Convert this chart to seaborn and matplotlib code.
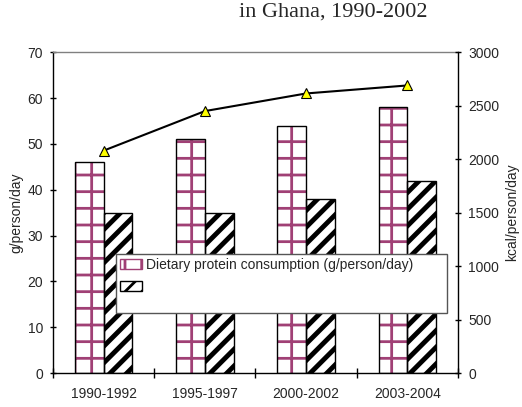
import matplotlib
matplotlib.use("Agg")
import matplotlib.pyplot as plt
from matplotlib.patches import Rectangle, Patch
import seaborn as sns
import pandas as pd

# Food supply indicators, Ghana
periods = ["1990-1992", "1995-1997", "2000-2002", "2003-2004"]
protein = [46, 51, 54, 58]          # g/person/day (left axis)
second_series = [35, 35, 38, 42]    # hatched bars (left axis)
energy = [2080, 2450, 2615, 2690]   # kcal/person/day (right axis)

protein_label = "Dietary protein consumption (g/person/day)"
second_label = ""

sns.set_theme(style="white")
plt.rcParams["font.family"] = ["Liberation Sans", "DejaVu Sans"]
plt.rcParams["hatch.linewidth"] = 2.0

PINK = "#a04075"

df = pd.DataFrame({
    "period": periods * 2,
    "value": protein + second_series,
    "series": ["protein"] * len(periods) + ["second"] * len(periods),
})

fig = plt.figure(figsize=(5.22, 4.07), dpi=100)
ax = fig.add_axes([0.1015, 0.0835, 0.7759, 0.788])

sns.barplot(data=df, x="period", y="value", hue="series", order=periods,
            hue_order=["protein", "second"], width=0.57, ax=ax,
            palette=["white", "white"], legend=False, saturation=1)

bars = [p for p in ax.patches]
n = len(periods)
for i, p in enumerate(bars):
    x, y = p.get_xy()
    w, h = p.get_width(), p.get_height()
    if i < n:
        p.set_hatch("+")
        p.set_edgecolor(PINK)
        if hasattr(p, "set_hatch_linewidth"):
            p.set_hatch_linewidth(2.0)
    else:
        p.set_hatch("//")
        p.set_edgecolor("black")
        if hasattr(p, "set_hatch_linewidth"):
            p.set_hatch_linewidth(3.5)
    p.set_linewidth(0)
    ax.add_patch(Rectangle((x, y), w, h, fill=False, edgecolor="black",
                           linewidth=1.0, zorder=p.get_zorder() + 0.1))

ax.set_xlim(-0.5, len(periods) - 0.5)
ax.set_ylim(0, 70)
ax.set_yticks(range(0, 71, 10))
ax.set_xlabel("")
ax.set_ylabel("g/person/day", fontsize=10)
ax.yaxis.set_label_coords(-0.073, 0.5)

# category boundaries carry the x ticks, labels sit at bar-group centres
ax.set_xticks([i - 0.5 for i in range(len(periods) + 1)], minor=True)
ax.tick_params(axis="x", which="major", length=0, pad=10, labelsize=10)
ax.tick_params(axis="x", which="minor", direction="inout", length=6.5,
               width=1, color="black", bottom=True)
ax.tick_params(axis="y", direction="inout", length=4.5, width=1,
               color="black", left=True, pad=5, labelsize=10)

for side in ("left", "bottom"):
    ax.spines[side].set_color("black")
    ax.spines[side].set_linewidth(1)
ax.spines["top"].set_color("#808080")
ax.spines["top"].set_linewidth(1)
ax.spines["right"].set_visible(False)

# energy supply line on the secondary axis
ax2 = ax.twinx()
ax2.plot(range(len(periods)), energy, color="black", linewidth=1.5,
         marker="^", markersize=6.5, markerfacecolor="#ffff00",
         markeredgecolor="black", markeredgewidth=0.8, zorder=5)
ax2.set_ylim(0, 3000)
ax2.set_yticks(range(0, 3001, 500))
ax2.set_ylabel("kcal/person/day", fontsize=10)
ax2.yaxis.set_label_coords(1.116, 0.5)
ax2.tick_params(axis="y", direction="inout", length=4.5, width=1,
                color="black", right=True, pad=5, labelsize=10)
for side in ("left", "bottom", "top"):
    ax2.spines[side].set_visible(False)
ax2.spines["right"].set_color("black")
ax2.spines["right"].set_linewidth(1)
ax2.grid(False)
ax.grid(False)

# legend box
ax2.add_patch(Rectangle((0.1556, 0.187), 0.817, 0.184, transform=ax2.transAxes,
                        facecolor="white", edgecolor="#555555", linewidth=1,
                        zorder=8))
handles = [
    Patch(facecolor="white", edgecolor=PINK, hatch="+", linewidth=0),
    Patch(facecolor="white", edgecolor="black", hatch="//", linewidth=0),
]
for h in handles:
    if hasattr(h, "set_hatch_linewidth"):
        h.set_hatch_linewidth(2.0)
leg = ax2.legend(handles, [protein_label, second_label], loc="upper left",
                 bbox_to_anchor=(0.1556, 0.371), frameon=False, fontsize=10,
                 handlelength=1.6, handleheight=0.7, handletextpad=0.25,
                 labelspacing=0.55, borderpad=0.3, borderaxespad=0)
leg.set_zorder(9)
for h in leg.legend_handles:
    h.set_edgecolor(PINK if h is leg.legend_handles[0] else "black")
    h.set_linewidth(1)

fig.text(333 / 522, 1 - 12 / 407, "in Ghana, 1990-2002", ha="center",
         va="center", fontsize=16, family=["Liberation Serif", "DejaVu Serif"])

fig.savefig("out.png", dpi=100)
